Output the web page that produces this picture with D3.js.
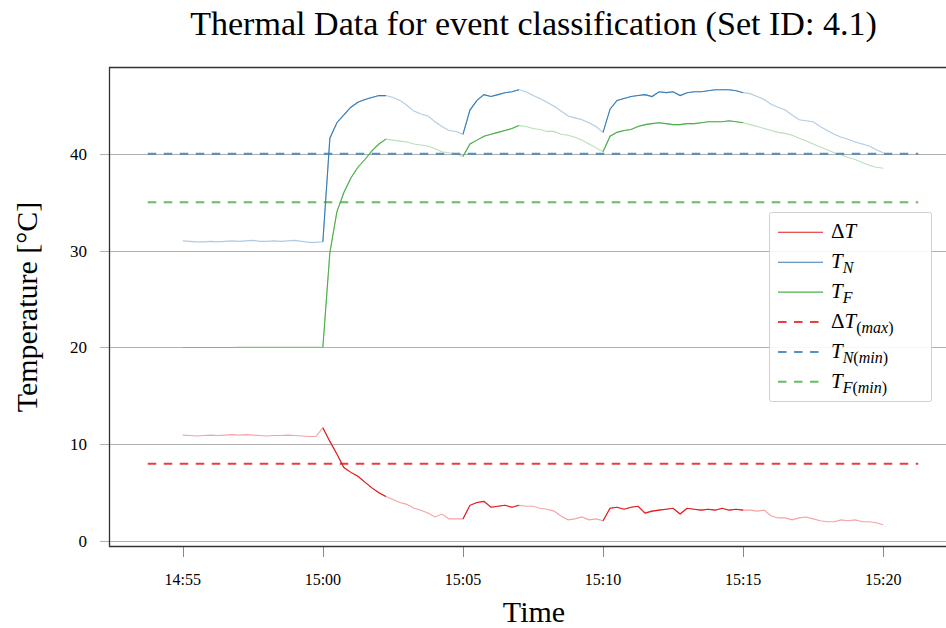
<!DOCTYPE html>
<html>
<head>
<meta charset="utf-8">
<script src="https://cdn.jsdelivr.net/npm/d3@7"></script>
<style>
  body { margin: 0; background: #fff; }
  text { font-family: "Liberation Serif", "DejaVu Serif", serif; fill: #000; }
</style>
</head>
<body>
<svg id="chart" width="946" height="628"></svg>
<script>
// samples start at 14:55:00, one every 15 s
const START = "14:55:00";
const STEP_SECONDS = 15;

const DELTA_T = [
  10.95, 10.9, 10.85, 10.9, 10.95, 10.9, 10.95, 11.0, 10.95, 11.0,
  10.95, 10.9, 10.85, 10.9, 10.9, 10.95, 10.9, 10.85, 10.8, 10.8,
  11.7, 10.3, 9.0, 7.6, 7.1, 6.7, 6.1, 5.5, 5.0, 4.6,
  4.3, 4.0, 3.8, 3.4, 3.2, 2.9, 2.5, 2.8, 2.3, 2.3,
  2.3, 3.7, 4.0, 4.1, 3.5, 3.6, 3.7, 3.5, 3.7, 3.6,
  3.6, 3.4, 3.3, 3.1, 2.6, 2.2, 2.3, 2.5, 2.2, 2.3,
  2.1, 3.4, 3.5, 3.3, 3.5, 3.6, 2.9, 3.1, 3.2, 3.3,
  3.4, 2.8, 3.4, 3.3, 3.2, 3.3, 3.2, 3.4, 3.2, 3.3,
  3.2, 3.2, 3.1, 3.2, 2.6, 2.4, 2.4, 2.2, 2.4, 2.5,
  2.3, 2.1, 2.0, 2.0, 2.2, 2.1, 2.2, 2.0, 2.0, 1.9, 1.7
];

const T_N = [
  31.0, 30.95, 30.9, 30.9, 30.95, 30.9, 30.95, 31.0, 30.95, 31.0,
  31.05, 30.95, 30.95, 31.0, 30.95, 31.0, 31.05, 30.95, 30.85, 30.85,
  30.9, 41.6, 43.2, 44.0, 44.8, 45.3, 45.6, 45.8, 46.0, 46.0,
  45.8, 45.5, 45.0, 44.4, 44.1, 43.9, 43.3, 42.8, 42.4, 42.3,
  42.0, 44.5, 45.5, 46.1, 45.9, 46.1, 46.3, 46.4, 46.6, 46.4,
  46.0, 45.7, 45.3, 44.9, 44.4, 43.9, 43.7, 43.5, 43.2, 42.8,
  42.2, 44.6, 45.5, 45.7, 45.9, 46.0, 46.1, 45.9, 46.4, 46.3,
  46.4, 46.0, 46.3, 46.4, 46.4, 46.5, 46.6, 46.6, 46.6, 46.5,
  46.3, 46.2, 45.9, 45.6, 45.1, 44.8, 44.5, 44.0, 43.5, 43.4,
  43.3, 42.8, 42.4, 42.0, 41.7, 41.5, 41.2, 41.0, 40.8, 40.4, 40.1
];

const T_F = [
  20.0, 20.0, 20.0, 20.0, 20.0, 20.0, 20.0, 20.0, 20.05, 20.05,
  20.05, 20.05, 20.05, 20.05, 20.05, 20.05, 20.05, 20.05, 20.05, 20.05,
  20.05, 29.8, 34.0, 36.0, 37.5, 38.6, 39.4, 40.3, 41.0, 41.5,
  41.4, 41.3, 41.2, 41.0, 40.9, 40.8, 40.5, 40.2, 40.1, 40.0,
  39.7, 41.0, 41.4, 41.8, 42.0, 42.2, 42.4, 42.6, 42.9, 42.8,
  42.6, 42.5, 42.3, 42.3, 42.0, 41.9, 41.7, 41.4, 41.0, 40.6,
  40.2, 41.8, 42.2, 42.4, 42.5, 42.8, 43.0, 43.1, 43.2, 43.1,
  43.0, 43.0, 43.1, 43.1, 43.2, 43.3, 43.3, 43.3, 43.4, 43.3,
  43.2, 43.0, 42.8, 42.6, 42.4, 42.2, 42.1, 41.9, 41.6, 41.3,
  41.0, 40.7, 40.4, 40.1, 39.9, 39.6, 39.4, 39.1, 38.8, 38.6, 38.5
];

// limits: ΔT max, T_N min, T_F min
const LIMITS = [8, 40, 35];
const LIMIT_SPAN = ["14:53:45", "15:21:15"];

// intervals drawn in full colour
const EVENTS = [["15:00:00", "15:02:15"], ["15:05:00", "15:07:05"], ["15:10:00", "15:15:05"]];

const X_TICKS = ["14:55", "15:00", "15:05", "15:10", "15:15", "15:20"];
const Y_TICKS = [0, 10, 20, 30, 40];

const COLORS = ["#e41a1c", "#377eb8", "#4daf4a"];

const parseT = d3.timeParse("%H:%M:%S");
const parseHM = d3.timeParse("%H:%M");
const fmt = d3.timeFormat("%H:%M");

const plot = { left: 109, right: 957, top: 67, bottom: 546 };

const svg = d3.select("#chart");

const x = d3.scaleTime()
  .domain([parseT("14:52:22"), parseT("15:22:38")])
  .range([plot.left, plot.right]);
const y = d3.scaleLinear()
  .domain([-0.5, 48.95])
  .range([plot.bottom, plot.top]);

const t0 = parseT(START);
function toPoints(values) {
  return values.map((v, i) => ({ t: new Date(t0.getTime() + i * STEP_SECONDS * 1000), v: v }));
}
const series = [DELTA_T, T_N, T_F].map(toPoints);

// grid + y ticks
svg.append("g")
  .selectAll("line")
  .data(Y_TICKS)
  .enter()
  .append("line")
    .attr("x1", plot.left - 9)
    .attr("x2", plot.right)
    .attr("y1", d => Math.round(y(d)) + 0.5)
    .attr("y2", d => Math.round(y(d)) + 0.5)
    .attr("stroke", "#b0b0b0")
    .attr("stroke-width", 1);

svg.append("g")
  .selectAll("text")
  .data(Y_TICKS)
  .enter()
  .append("text")
    .attr("x", 87)
    .attr("y", d => y(d) + 6)
    .attr("text-anchor", "end")
    .attr("font-size", 17)
    .text(d => d);

// x ticks
let xt = X_TICKS.map(parseHM);
svg.append("g")
  .selectAll("line")
  .data(xt)
  .enter()
  .append("line")
    .attr("x1", d => Math.round(x(d)) + 0.5)
    .attr("x2", d => Math.round(x(d)) + 0.5)
    .attr("y1", plot.bottom)
    .attr("y2", plot.bottom + 11)
    .attr("stroke", "#888")
    .attr("stroke-width", 1);

svg.append("g")
  .selectAll("text")
  .data(xt)
  .enter()
  .append("text")
    .attr("x", d => x(d))
    .attr("y", 585)
    .attr("text-anchor", "middle")
    .attr("font-size", 16)
    .text(d => fmt(d));

// spines
svg.append("path")
  .attr("d", `M${plot.right},${plot.top + 0.5}H${plot.left + 0.5}V${plot.bottom + 0.5}H${plot.right}`)
  .attr("fill", "none")
  .attr("stroke", "#333")
  .attr("stroke-width", 1.3);

// limit lines
let [la, lb] = LIMIT_SPAN.map(parseT);
svg.append("g")
  .selectAll("line")
  .data(LIMITS)
  .enter()
  .append("line")
    .attr("x1", x(la))
    .attr("x2", x(lb))
    .attr("y1", d => y(d))
    .attr("y2", d => y(d))
    .attr("stroke", (d, i) => COLORS[i])
    .attr("stroke-opacity", 0.85)
    .attr("stroke-width", 2)
    .attr("stroke-dasharray", "8.5,7.5");

let line = d3.line().x(d => x(d.t)).y(d => y(d.v));

// faded full series
series.forEach((pts, i) => {
  svg.append("path")
    .attr("d", line(pts))
    .attr("fill", "none")
    .attr("stroke", COLORS[i])
    .attr("stroke-opacity", 0.4)
    .attr("stroke-width", 1.1);
});

// event parts in full colour
let ev = EVENTS.map(([a, b]) => [parseT(a), parseT(b)]);
series.forEach((pts, i) => {
  ev.forEach(([a, b]) => {
    let seg = pts.filter(p => p.t >= a && p.t <= b);
    svg.append("path")
      .attr("d", line(seg))
      .attr("fill", "none")
      .attr("stroke", COLORS[i])
      .attr("stroke-width", 1.1);
  });
});

// legend
let lg = svg.append("g");
lg.append("rect")
  .attr("x", 769.5).attr("y", 212.5)
  .attr("width", 162).attr("height", 189)
  .attr("rx", 2)
  .attr("fill", "#fff")
  .attr("fill-opacity", 0.9)
  .attr("stroke", "#d0d0d0");

const LABELS = [
  [["Δ", "n"], ["T", "i"]],
  [["T", "i"], ["N", "si"]],
  [["T", "i"], ["F", "si"]],
  [["Δ", "n"], ["T", "i"], ["(", "s"], ["max", "si"], [")", "s"]],
  [["T", "i"], ["N", "si"], ["(", "s"], ["min", "si"], [")", "s"]],
  [["T", "i"], ["F", "si"], ["(", "s"], ["min", "si"], [")", "s"]]
];

LABELS.forEach((parts, k) => {
  let ly = 232.3 + k * 29.9;
  lg.append("line")
    .attr("x1", 778).attr("x2", 823)
    .attr("y1", ly).attr("y2", ly)
    .attr("stroke", COLORS[k % 3])
    .attr("stroke-width", k < 3 ? 1.1 : 2)
    .attr("stroke-opacity", k < 3 ? 1 : 0.85)
    .attr("stroke-dasharray", k < 3 ? null : "8.5,7.5");
  let tx = lg.append("text").attr("x", 831).attr("y", ly + 6).attr("font-size", 21);
  let sub = false;
  parts.forEach(([s, kind]) => {
    let ts = tx.append("tspan").text(s);
    ts.attr("font-style", kind.includes("i") ? "italic" : "normal");
    if (kind.includes("s")) {
      ts.attr("font-size", 16);
      if (!sub) { ts.attr("dy", 5); sub = true; }
    }
  });
});

// title, font size fitted to the measured width
function fit(sel, w) {
  let fs = +sel.attr("font-size");
  sel.attr("font-size", fs * w / sel.node().getComputedTextLength());
}

fit(svg.append("text")
  .attr("x", 533.5).attr("y", 35)
  .attr("text-anchor", "middle")
  .attr("font-size", 28)
  .text("Thermal Data for event classification (Set ID: 4.1)"), 687);

svg.append("text")
  .attr("transform", "translate(37,307) rotate(-90)")
  .attr("text-anchor", "middle")
  .attr("font-size", 30)
  .text("Temperature [°C]");

svg.append("text")
  .attr("x", 534).attr("y", 622)
  .attr("text-anchor", "middle")
  .attr("font-size", 30)
  .text("Time");
</script>
</body>
</html>
